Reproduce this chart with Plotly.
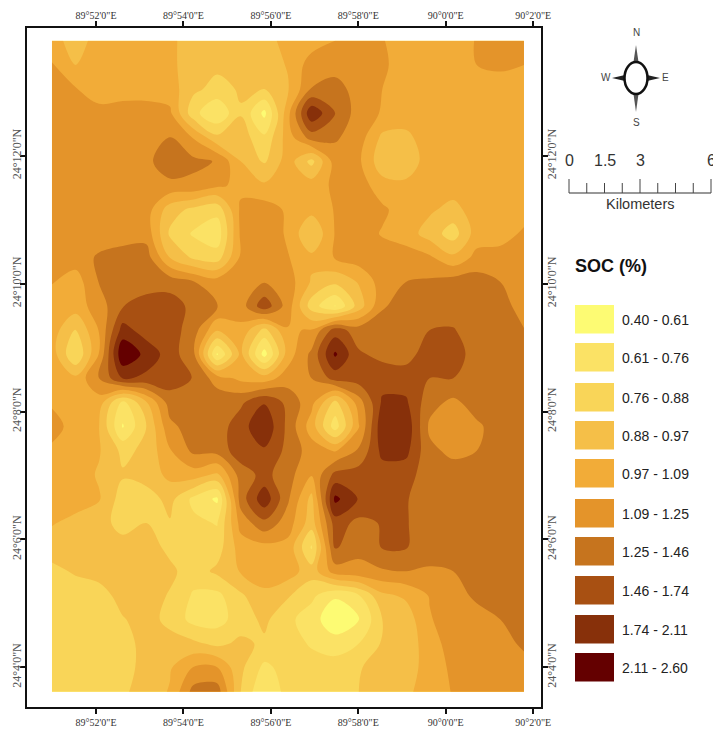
import numpy as np
import plotly.graph_objects as go

W, H = 721, 729
BODY = 8  # page margin around the figure
L, R, T, B = 27, 541, 28, 707

LEVELS = [0.40, 0.61, 0.76, 0.88, 0.97, 1.09, 1.25, 1.46, 1.74, 2.11, 2.60]
CLASS_LABELS = ["0.40 - 0.61", "0.61 - 0.76", "0.76 - 0.88", "0.88 - 0.97", "0.97 - 1.09",
                "1.09 - 1.25", "1.25 - 1.46", "1.46 - 1.74", "1.74 - 2.11", "2.11 - 2.60"]
CLASS_COLORS = ["#FDFB73", "#FBE265", "#F9D558", "#F5BF48", "#F2AC38",
                "#E4942A", "#C6741E", "#A85012", "#87300A", "#640000"]

X_TICKS = [52, 54, 56, 58, 60, 62]
X_TICK_LABELS = ["89°52'0\"E", "89°54'0\"E", "89°56'0\"E", "89°58'0\"E", "90°0'0\"E", "90°2'0\"E"]
Y_TICKS = [4, 6, 8, 10, 12]
Y_TICK_LABELS = ["24°4'0\"N", "24°6'0\"N", "24°8'0\"N", "24°10'0\"N", "24°12'0\"N"]

SOC = [
 [1.03,.92,1.03,1.03,1.03,1.0,.92,.92,.92,.92,1.03,1.03,1.09,1.17,1.10,1.03,1.03,1.03,1.10,1.17,1.17],
 [1.10,.97,1.03,1.03,1.03,1.0,.92,.90,.92,.92,.98,1.17,1.17,1.17,1.12,1.03,1.03,1.03,1.09,1.12,1.09],
 [1.17,1.10,1.03,1.03,1.03,1.03,.90,.84,.89,.88,.96,1.26,1.35,1.17,1.09,1.03,1.03,1.03,1.03,1.03,1.03],
 [1.17,1.17,1.14,1.17,1.17,1.12,.80,.62,.87,.55,1.05,2.05,1.46,1.17,1.08,1.03,1.03,1.03,1.03,1.03,1.03],
 [1.17,1.17,1.17,1.17,1.17,1.25,1.08,.90,.93,.78,1.03,1.35,1.28,1.17,.95,.95,1.03,1.03,1.03,1.03,1.03],
 [1.17,1.17,1.17,1.17,1.21,1.38,1.30,1.24,.97,.86,1.03,.84,1.17,1.12,.91,.91,1.03,1.03,1.03,1.03,1.03],
 [1.17,1.17,1.17,1.17,1.21,1.21,1.21,1.12,1.06,.99,1.03,1.03,1.12,1.17,1.02,1.00,1.03,1.03,1.03,1.03,1.03],
 [1.17,1.17,1.17,1.17,1.17,.92,.85,.80,1.12,1.17,1.07,1.01,1.10,1.17,1.12,1.03,.99,.94,1.03,1.03,1.03],
 [1.17,1.17,1.17,1.17,1.19,.86,.74,.66,1.12,1.21,1.07,.88,1.10,1.17,1.08,1.03,.93,.82,1.03,1.03,1.12],
 [1.17,1.17,1.28,1.35,1.35,.97,.86,.82,1.12,1.21,1.10,1.00,1.10,1.17,1.17,1.17,1.12,1.00,1.14,1.17,1.17],
 [1.10,1.03,1.26,1.35,1.35,1.37,1.26,1.17,1.19,1.24,1.17,.96,.90,.98,1.17,1.25,1.28,1.35,1.35,1.25,1.17],
 [1.03,1.03,1.17,1.45,1.60,1.60,1.40,1.26,1.17,1.65,1.17,.82,.60,.92,1.23,1.35,1.35,1.35,1.35,1.35,1.17],
 [1.03,.87,1.10,1.90,1.60,1.60,1.35,.98,1.06,.84,1.08,1.10,1.60,1.35,1.37,1.37,1.46,1.48,1.35,1.35,1.26],
 [1.03,.76,1.10,2.55,2.00,1.60,1.30,.58,1.00,.52,1.03,1.30,2.20,1.50,1.40,1.38,1.60,1.62,1.35,1.35,1.30],
 [1.03,1.00,1.25,1.75,1.66,1.60,1.45,1.17,1.06,1.03,1.17,1.25,1.57,1.60,1.63,1.60,1.46,1.46,1.35,1.35,1.35],
 [1.07,1.03,1.03,.71,.96,1.35,1.35,1.40,1.42,1.72,1.40,1.14,.84,1.17,1.80,1.80,1.33,1.21,1.35,1.35,1.35],
 [1.17,1.03,.97,.59,.88,1.21,1.35,1.35,1.62,2.05,1.40,1.03,.68,1.08,2.02,2.02,1.22,1.17,1.22,1.35,1.35],
 [1.06,1.03,.98,.85,.90,1.08,1.30,1.33,1.62,1.70,1.40,1.17,1.08,1.28,1.85,1.85,1.30,1.21,1.25,1.35,1.35],
 [1.06,1.03,.96,.89,.92,1.00,1.03,.95,1.35,1.55,1.33,1.10,1.55,1.60,1.60,1.57,1.35,1.35,1.35,1.35,1.35],
 [1.03,1.03,.98,.82,.82,.91,.72,.57,1.35,2.00,1.28,.94,2.25,1.72,1.60,1.48,1.35,1.35,1.35,1.35,1.35],
 [.98,.94,.92,.83,.88,.87,.79,.75,1.15,1.40,1.17,.92,1.60,1.40,1.48,1.48,1.35,1.35,1.35,1.35,1.35],
 [.92,.92,.92,.92,.92,.85,.82,.82,1.03,1.05,1.05,.74,1.50,1.30,1.48,1.48,1.35,1.35,1.35,1.35,1.35],
 [.85,.89,.92,.92,.90,.90,.82,.90,.98,1.03,1.03,.92,1.17,1.21,1.23,1.25,1.23,1.25,1.35,1.35,1.35],
 [.82,.82,.82,.92,.92,.87,.74,.72,.86,.95,.89,.79,.63,.75,.95,.99,1.10,1.17,1.30,1.35,1.35],
 [.82,.82,.82,.87,.92,.84,.71,.70,.82,.90,.79,.68,.45,.58,.88,.92,1.08,1.17,1.17,1.25,1.35],
 [.82,.82,.82,.82,.92,.92,.90,.85,.90,.86,.82,.74,.68,.76,.89,.92,1.03,1.17,1.17,1.17,1.30],
 [.82,.82,.82,.82,.92,.96,1.10,1.10,.90,.72,.81,.82,.82,.87,.92,.92,1.03,1.12,1.17,1.17,1.17],
 [.82,.82,.82,.86,.92,.98,1.33,1.36,.88,.61,.81,.82,.82,.88,.92,.95,1.03,1.10,1.17,1.17,1.17],
]

soc = np.array(SOC)
lon = np.linspace(50.99, 61.79, soc.shape[1])   # arc-minutes past 89°
lat = np.linspace(13.80, 3.617, soc.shape[0])   # arc-minutes past 24°
klass = np.interp(soc, LEVELS, np.arange(len(LEVELS)))

n = len(CLASS_COLORS)
colorscale = [[i / (n - 1), c] for i, c in enumerate(CLASS_COLORS)]


def px(x):
    return (x - L) / (R - L)


def py(y):
    return (B - y) / (B - T)


fig = go.Figure()
fig.add_trace(go.Contour(
    x=lon, y=lat, z=klass,
    colorscale=colorscale, showscale=False, hoverinfo="skip",
    autocontour=False,
    contours=dict(start=1, end=9, size=1, coloring="fill", showlines=False),
    line=dict(width=0, smoothing=1.0),
))
fig.add_trace(go.Scatter(x=[55], y=[8], xaxis="x2", yaxis="y2", mode="markers",
                         marker=dict(opacity=0), showlegend=False, hoverinfo="skip"))

X_RANGE = [50.42, 62.18]
Y_RANGE = [3.38, 14.0]
x_font = dict(family="Liberation Serif", size=10, color="#333333")
y_font = dict(family="Liberation Serif", size=12, color="#555555")
common = dict(showgrid=False, zeroline=False, ticks="outside", ticklen=5, tickwidth=1.5,
              tickcolor="#111111", showline=True, linecolor="#111111", linewidth=2,
              automargin=False)
fig.update_layout(
    width=W - BODY, height=H - BODY, autosize=False,
    margin=dict(l=L - BODY, r=W - R, t=T - BODY, b=H - B, pad=0),
    paper_bgcolor="white", plot_bgcolor="white", showlegend=False,
    xaxis=dict(range=X_RANGE, tickvals=X_TICKS, ticktext=X_TICK_LABELS, tickfont=x_font,
               tickangle=0, mirror=True, **common),
    yaxis=dict(range=Y_RANGE, tickvals=Y_TICKS, ticktext=Y_TICK_LABELS, tickfont=y_font,
               tickangle=-90, mirror=True, ticklabelstandoff=-6, **common),
    xaxis2=dict(range=X_RANGE, tickvals=X_TICKS, ticktext=X_TICK_LABELS, tickfont=x_font,
                tickangle=0, overlaying="x", side="top", anchor="y2", ticklabelstandoff=-2, **common),
    yaxis2=dict(range=Y_RANGE, tickvals=Y_TICKS, ticktext=Y_TICK_LABELS, tickfont=y_font,
                tickangle=-90, overlaying="y", side="right", anchor="x2", ticklabelstandoff=-6, **common),
)

SANS = "Liberation Sans"
shapes, notes = [], []


def text(x, y, s, size, color="#222222", anchor="center", family=SANS):
    notes.append(dict(xref="paper", yref="paper", x=px(x), y=py(y), text=s, showarrow=False,
                      xanchor=anchor, yanchor="middle",
                      font=dict(family=family, size=size, color=color)))


def line(x0, y0, x1, y1, width=1.0, color="#333333"):
    shapes.append(dict(type="line", xref="paper", yref="paper", x0=px(x0), y0=py(y0),
                       x1=px(x1), y1=py(y1), line=dict(color=color, width=width)))


def poly(points, fill):
    d = "M " + " L ".join(f"{px(a):.5f} {py(b):.5f}" for a, b in points) + " Z"
    shapes.append(dict(type="path", xref="paper", yref="paper", path=d,
                       fillcolor=fill, line=dict(width=0)))


# Legend
SWATCH_TOPS = [305, 343, 383, 421, 459, 499, 537, 576, 615, 653]
text(573, 266, "<b>SOC (%)</b>", 18, color="#111111", anchor="left")
for top, color, label in zip(SWATCH_TOPS, CLASS_COLORS, CLASS_LABELS):
    shapes.append(dict(type="rect", xref="paper", yref="paper", x0=px(575), x1=px(614),
                       y0=py(top), y1=py(top + 28.5), fillcolor=color, line=dict(width=0)))
    text(620, top + 14.5, label, 14, anchor="left")

# Scale bar
SCALE_KM = [0, 0.75, 1.5, 2.25, 3, 3.75, 4.5, 5.25, 6]
SCALE_LABELS = {0: "0", 1.5: "1.5", 3: "3", 6: "6"}
line(569, 193, 711, 193, 1.2)
for km in SCALE_KM:
    xp = 569 + km * 142 / 6
    line(xp, 193, xp, 179 if km in (0, 3, 6) else 183, 1.0, "#444444")
    if km in SCALE_LABELS:
        text(xp, 161, SCALE_LABELS[km], 16, color="#333333")
text(640, 204, "Kilometers", 14.5, color="#333333")

# North arrow
cx, cy = 636, 78
poly([(cx - 2.5, cy - 16), (cx, cy - 33), (cx + 2.5, cy - 16)], "#555555")
poly([(cx - 2.5, cy + 16), (cx, cy + 34), (cx + 2.5, cy + 16)], "#555555")
poly([(cx - 11, cy - 3), (cx - 24, cy), (cx - 11, cy + 3)], "#222222")
poly([(cx + 11, cy - 3), (cx + 24, cy), (cx + 11, cy + 3)], "#222222")
shapes.append(dict(type="circle", xref="paper", yref="paper", x0=px(cx - 11.5), x1=px(cx + 11.5),
                   y0=py(cy - 16), y1=py(cy + 16), fillcolor="white",
                   line=dict(color="#111111", width=2.5)))
text(cx, 33, "N", 10, color="#444444")
text(cx, 123, "S", 10, color="#444444")
text(606, 78, "W", 10, color="#444444")
text(665, 78, "E", 10, color="#444444")

fig.update_layout(shapes=shapes, annotations=notes)
fig.write_html("out.html")
